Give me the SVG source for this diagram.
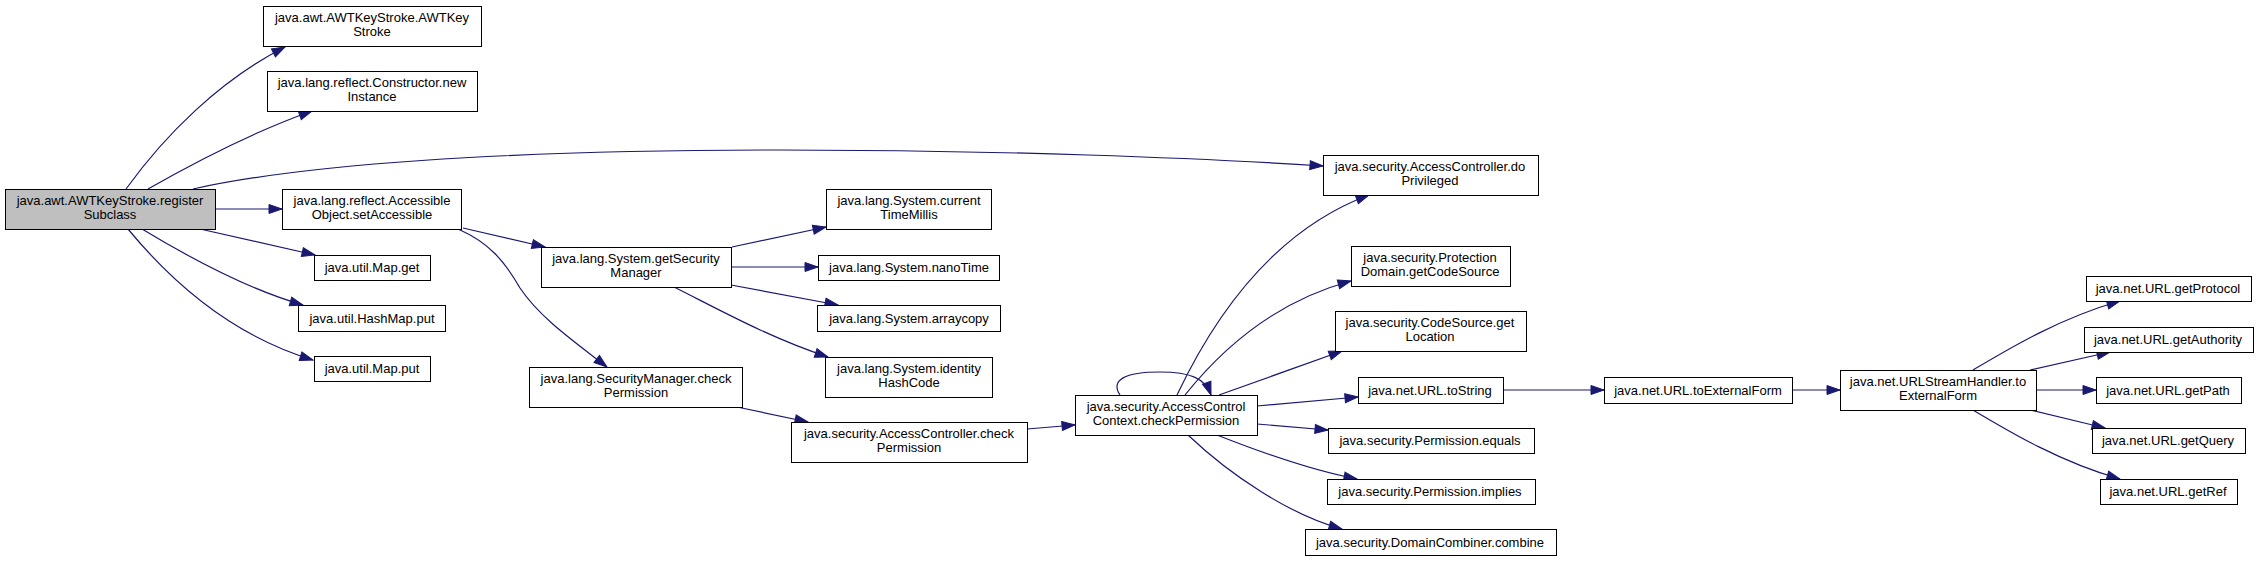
<svg xmlns="http://www.w3.org/2000/svg" width="2259" height="561" viewBox="0 0 2259 561">
<style>
.n rect{fill:#ffffff;stroke:#000000;stroke-width:1}
.n.root rect{fill:#bfbfbf}
.n text{font-family:"Liberation Sans",Arial,Helvetica,sans-serif;font-size:13px;text-anchor:middle;fill:#000000}
.e path{fill:none;stroke:#191970;stroke-width:1.2;marker-end:url(#arr)}
</style>
<defs>
<marker id="arr" markerUnits="userSpaceOnUse" markerWidth="14" markerHeight="11" refX="13" refY="5" orient="auto" overflow="visible">
<path d="M0,0.5 L13,5 L0,9.5 z" fill="#191970" stroke="#191970" stroke-width="1"/>
</marker>
</defs>
<rect width="2259" height="561" fill="#ffffff"/>
<g id="edges" class="e">
<path d="M126,189 C165,135 220,80 285,47"/>
<path d="M148,189 C190,165 250,133 312,111"/>
<path d="M215,209 L282,209"/>
<path d="M200,229 L315,255"/>
<path d="M142,229 C190,258 250,290 303,305"/>
<path d="M128,229 C170,280 230,335 313,360"/>
<path d="M193,189 C300,165 500,150 780,150 C1000,150 1200,158 1323,166"/>
<path d="M463,228 L545,247"/>
<path d="M458,229 C490,243 505,262 520,288 C540,318 575,342 607,367"/>
<path d="M732,247 L826,227"/>
<path d="M731,267 L818,267"/>
<path d="M731,285 L838,305"/>
<path d="M674,287 C720,310 770,338 828,357"/>
<path d="M737,407 L808,422"/>
<path d="M1027,429 L1075,425"/>
<path d="M1120,395 C1110,380 1125,372 1160,372 C1190,372 1205,378 1211,395"/>
<path d="M1177,395 C1215,315 1275,230 1369,195"/>
<path d="M1185,395 C1225,345 1280,300 1351,281"/>
<path d="M1219,395 L1342,351"/>
<path d="M1257,406 L1358,397"/>
<path d="M1257,424 L1328,430"/>
<path d="M1217,435 C1260,452 1310,470 1357,479"/>
<path d="M1188,435 C1230,475 1290,515 1342,529"/>
<path d="M1503,390 L1604,390"/>
<path d="M1792,390 L1840,390"/>
<path d="M1973,370 C2010,348 2060,318 2120,301"/>
<path d="M2030,370 L2110,352"/>
<path d="M2036,390 L2096,390"/>
<path d="M2030,410 L2105,428"/>
<path d="M1973,410 C2010,432 2060,462 2120,479"/>
</g>
<g id="n0" class="n root"><rect x="5.5" y="189.5" width="210" height="40"/><text x="110" y="205">java.awt.AWTKeyStroke.register</text><text x="110" y="219">Subclass</text></g>
<g id="n1" class="n"><rect x="263.5" y="6.5" width="218" height="40"/><text x="372" y="22">java.awt.AWTKeyStroke.AWTKey</text><text x="372" y="36">Stroke</text></g>
<g id="n2" class="n"><rect x="267.5" y="71.5" width="210" height="40"/><text x="372" y="87">java.lang.reflect.Constructor.new</text><text x="372" y="101">Instance</text></g>
<g id="n3" class="n"><rect x="282.5" y="189.5" width="179" height="40"/><text x="372" y="205">java.lang.reflect.Accessible</text><text x="372" y="219">Object.setAccessible</text></g>
<g id="n4" class="n"><rect x="314.5" y="255.5" width="116" height="25"/><text x="372" y="272">java.util.Map.get</text></g>
<g id="n5" class="n"><rect x="298.5" y="305.5" width="147" height="26"/><text x="372" y="323">java.util.HashMap.put</text></g>
<g id="n6" class="n"><rect x="314.5" y="356.5" width="116" height="25"/><text x="372" y="373">java.util.Map.put</text></g>
<g id="n7" class="n"><rect x="541.5" y="247.5" width="190" height="40"/><text x="636" y="263">java.lang.System.getSecurity</text><text x="636" y="277">Manager</text></g>
<g id="n8" class="n"><rect x="529.5" y="367.5" width="213" height="40"/><text x="636" y="383">java.lang.SecurityManager.check</text><text x="636" y="397">Permission</text></g>
<g id="n9" class="n"><rect x="826.5" y="189.5" width="165" height="40"/><text x="909" y="205">java.lang.System.current</text><text x="909" y="219">TimeMillis</text></g>
<g id="n10" class="n"><rect x="818.5" y="255.5" width="181" height="25"/><text x="909" y="272">java.lang.System.nanoTime</text></g>
<g id="n11" class="n"><rect x="817.5" y="305.5" width="183" height="26"/><text x="909" y="323">java.lang.System.arraycopy</text></g>
<g id="n12" class="n"><rect x="825.5" y="357.5" width="167" height="40"/><text x="909" y="373">java.lang.System.identity</text><text x="909" y="387">HashCode</text></g>
<g id="n13" class="n"><rect x="791.5" y="422.5" width="236" height="40"/><text x="909" y="438">java.security.AccessController.check</text><text x="909" y="452">Permission</text></g>
<g id="n14" class="n"><rect x="1075.5" y="395.5" width="182" height="40"/><text x="1166" y="411">java.security.AccessControl</text><text x="1166" y="425">Context.checkPermission</text></g>
<g id="n15" class="n"><rect x="1323.5" y="155.5" width="215" height="40"/><text x="1430" y="171">java.security.AccessController.do</text><text x="1430" y="185">Privileged</text></g>
<g id="n16" class="n"><rect x="1351.5" y="246.5" width="159" height="40"/><text x="1430" y="262">java.security.Protection</text><text x="1430" y="276">Domain.getCodeSource</text></g>
<g id="n17" class="n"><rect x="1335.5" y="311.5" width="191" height="40"/><text x="1430" y="327">java.security.CodeSource.get</text><text x="1430" y="341">Location</text></g>
<g id="n18" class="n"><rect x="1358.5" y="377.5" width="145" height="26"/><text x="1430" y="395">java.net.URL.toString</text></g>
<g id="n19" class="n"><rect x="1328.5" y="428.5" width="206" height="25"/><text x="1430" y="445">java.security.Permission.equals</text></g>
<g id="n20" class="n"><rect x="1327.5" y="479.5" width="208" height="25"/><text x="1430" y="496">java.security.Permission.implies</text></g>
<g id="n21" class="n"><rect x="1305.5" y="529.5" width="251" height="26"/><text x="1430" y="547">java.security.DomainCombiner.combine</text></g>
<g id="n22" class="n"><rect x="1604.5" y="377.5" width="188" height="26"/><text x="1698" y="395">java.net.URL.toExternalForm</text></g>
<g id="n23" class="n"><rect x="1840.5" y="370.5" width="196" height="40"/><text x="1938" y="386">java.net.URLStreamHandler.to</text><text x="1938" y="400">ExternalForm</text></g>
<g id="n24" class="n"><rect x="2086.5" y="276.5" width="165" height="25"/><text x="2168" y="293">java.net.URL.getProtocol</text></g>
<g id="n25" class="n"><rect x="2084.5" y="327.5" width="169" height="25"/><text x="2168" y="344">java.net.URL.getAuthority</text></g>
<g id="n26" class="n"><rect x="2096.5" y="377.5" width="145" height="26"/><text x="2168" y="395">java.net.URL.getPath</text></g>
<g id="n27" class="n"><rect x="2092.5" y="428.5" width="153" height="25"/><text x="2168" y="445">java.net.URL.getQuery</text></g>
<g id="n28" class="n"><rect x="2100.5" y="479.5" width="137" height="25"/><text x="2168" y="496">java.net.URL.getRef</text></g>
</svg>
